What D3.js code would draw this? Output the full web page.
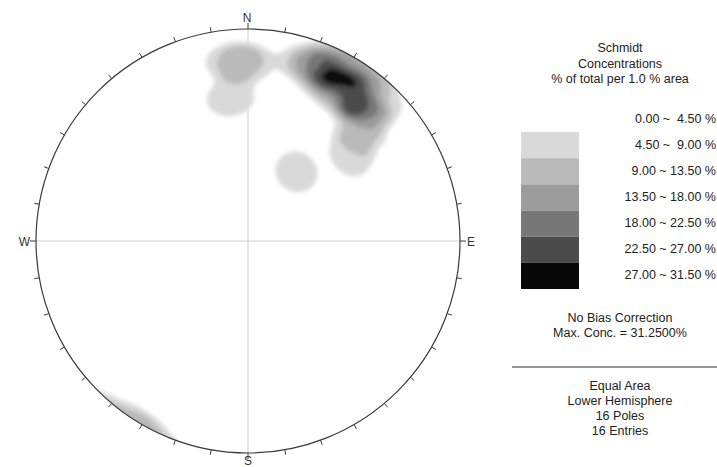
<!DOCTYPE html>
<html>
<head>
<meta charset="utf-8">
<script src="https://cdn.jsdelivr.net/npm/d3@7"></script>
<style>
  body { margin: 0; background: #fff; }
  svg { display: block; font-family: "Liberation Sans", Arial, sans-serif; }
</style>
</head>
<body>
<div id="net"></div>
<script>
// pole orientations (trend, plunge in degrees)
var poleTrend  = [355, 0, 353, 19, 22, 25, 42, 33, 34, 39, 28, 30, 43, 45, 50, 35];
var polePlunge = [15.4, 17.2, 32.5, 12, 16, 10.5, 8, 18, 2, 15, 3, 20, 20, 27, 37, 57.2];

// contour levels (% of total per 1% area)
var levels = [0, 4.5, 9, 13.5, 18, 22.5, 27, 31.5];
var levelLabels = ["0.00 ~  4.50 %", "4.50 ~  9.00 %", "9.00 ~ 13.50 %", "13.50 ~ 18.00 %",
                   "18.00 ~ 22.50 %", "22.50 ~ 27.00 %", "27.00 ~ 31.50 %"];
var levelColors = ["#ffffff", "#d9d9d9", "#bababa", "#9c9c9c", "#777777", "#4b4b4b", "#080808"];

var titleLines = ["Schmidt", "Concentrations", "% of total per 1.0 % area"];
var noteLines = ["No Bias Correction", "Max. Conc. = 31.2500%"];
var infoLines = ["Equal Area", "Lower Hemisphere", "16 Poles", "16 Entries"];

var svgWidth = 717, svgHeight = 467;
var cx = 248, cy = 241, R = 212;

var svg = d3.select("#net").append("svg")
    .attr("width", svgWidth)
    .attr("height", svgHeight);

var defs = svg.append("defs");
defs.append("clipPath").attr("id", "clip")
    .append("circle").attr("cx", cx).attr("cy", cy).attr("r", R);
defs.append("filter").attr("id", "blur")
    .attr("x", "-10%").attr("y", "-10%").attr("width", "120%").attr("height", "120%")
    .append("feGaussianBlur").attr("stdDeviation", 2.2);

// vectors for poles (lower hemisphere, z down)
var toRad = Math.PI / 180;
var poles = poleTrend.map(function (t, i) {
    var th = (90 - polePlunge[i]) * toRad, tr = t * toRad;
    return [Math.sin(th) * Math.sin(tr), Math.sin(th) * Math.cos(tr), Math.cos(th)];
});

// smoothed counting kernel (~1% area counting circle)
function weight(ang) {
    var a = 4.5, b = 14;
    if (ang <= a) return 1;
    if (ang >= b) return 0;
    return 0.5 * (1 + Math.cos(Math.PI * (ang - a) / (b - a)));
}

// density grid over the net
var step = 2, pad = 12;
var nx = Math.ceil((2 * R + 2 * pad) / step) + 1;
var x0 = cx - R - pad, y0 = cy - R - pad;
var values = new Float64Array(nx * nx);
for (var j = 0; j < nx; j++) {
    for (var i = 0; i < nx; i++) {
        var px = x0 + i * step - cx, py = y0 + j * step - cy;
        var r = Math.min(Math.sqrt(px * px + py * py) / R, 1.41);
        var th = 2 * Math.asin(r / Math.SQRT2);
        var tr = Math.atan2(px, -py);
        var v = [Math.sin(th) * Math.sin(tr), Math.sin(th) * Math.cos(tr), Math.cos(th)];
        var s = 0;
        poles.forEach(function (p) {
            var d = Math.abs(v[0] * p[0] + v[1] * p[1] + v[2] * p[2]);
            s += weight(Math.acos(Math.min(1, d)) / toRad);
        });
        values[i + j * nx] = 100 * s / poles.length;
    }
}

var contours = d3.contours()
    .size([nx, nx])
    .thresholds(levels.slice(1, 7))(values);

var color = d3.scaleThreshold().domain(levels.slice(1, 7)).range(levelColors);
var path = d3.geoPath(d3.geoIdentity().scale(step).translate([x0 - step / 2, y0 - step / 2]));

// cross lines
svg.append("line").attr("x1", cx - R).attr("x2", cx + R).attr("y1", cy).attr("y2", cy)
    .attr("stroke", "#cfcfcf").attr("stroke-width", 1);
svg.append("line").attr("x1", cx).attr("x2", cx).attr("y1", cy - R).attr("y2", cy + R)
    .attr("stroke", "#cfcfcf").attr("stroke-width", 1);

// filled contours
svg.append("g").attr("clip-path", "url(#clip)")
    .append("g").attr("filter", "url(#blur)")
    .selectAll("path")
    .data(contours)
    .enter().append("path")
    .attr("d", path)
    .attr("fill", function (d) { return color(d.value); });

// primitive circle
svg.append("circle").attr("cx", cx).attr("cy", cy).attr("r", R)
    .attr("fill", "none").attr("stroke", "#3a3a3a").attr("stroke-width", 1.2);

// ticks every 10 degrees
var ticks = d3.range(0, 360, 10);
svg.selectAll(".tick").data(ticks).enter().append("line")
    .attr("class", "tick")
    .attr("x1", function (d) { return cx + R * Math.sin(d * toRad); })
    .attr("y1", function (d) { return cy - R * Math.cos(d * toRad); })
    .attr("x2", function (d) { var l = d % 90 === 0 ? 6 : 5; return cx + (R + l) * Math.sin(d * toRad); })
    .attr("y2", function (d) { var l = d % 90 === 0 ? 6 : 5; return cy - (R + l) * Math.cos(d * toRad); })
    .attr("stroke", "#3a3a3a").attr("stroke-width", 1);

// cardinal labels
var cardinals = [["N", cx - 1, 22, "middle"], ["S", cx, 465, "middle"],
                 ["W", cx - R - 6, cy + 5, "end"], ["E", cx + R + 7, cy + 5, "start"]];
svg.selectAll(".card").data(cardinals).enter().append("text")
    .attr("x", function (d) { return d[1]; })
    .attr("y", function (d) { return d[2]; })
    .attr("text-anchor", function (d) { return d[3]; })
    .attr("font-size", 12).attr("fill", "#333")
    .text(function (d) { return d[0]; });

// legend
var legX = 620, fs = 12.5;
svg.selectAll(".title").data(titleLines).enter().append("text")
    .attr("x", legX).attr("y", function (d, i) { return 52 + i * 15.5; })
    .attr("text-anchor", "middle").attr("font-size", fs).attr("fill", "#222")
    .text(function (d) { return d; });

var boxY = d3.scaleLinear().domain([1, 7]).range([132, 289]);
svg.selectAll(".box").data(d3.range(1, 7)).enter().append("rect")
    .attr("x", 521).attr("width", 58)
    .attr("y", function (d) { return boxY(d); })
    .attr("height", function (d) { return boxY(d + 1) - boxY(d); })
    .attr("fill", function (d) { return levelColors[d]; });

svg.selectAll(".lab").data(levelLabels).enter().append("text")
    .attr("x", 716).attr("y", function (d, i) { return 122.5 + i * 26.1; })
    .attr("text-anchor", "end").attr("font-size", fs).attr("fill", "#222")
    .style("white-space", "pre")
    .text(function (d) { return d; });

svg.selectAll(".note").data(noteLines).enter().append("text")
    .attr("x", legX).attr("y", function (d, i) { return 321.5 + i * 15.5; })
    .attr("text-anchor", "middle").attr("font-size", fs).attr("fill", "#222")
    .text(function (d) { return d; });

svg.append("line").attr("x1", 512).attr("x2", 717).attr("y1", 367).attr("y2", 367)
    .attr("stroke", "#333").attr("stroke-width", 1.2);

svg.selectAll(".info").data(infoLines).enter().append("text")
    .attr("x", legX).attr("y", function (d, i) { return 389.5 + i * 15.3; })
    .attr("text-anchor", "middle").attr("font-size", fs).attr("fill", "#222")
    .text(function (d) { return d; });
</script>
</body>
</html>
